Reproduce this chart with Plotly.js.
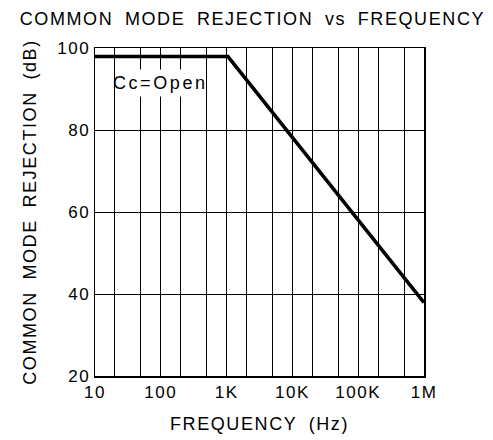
<!DOCTYPE html>
<html><head><meta charset="utf-8">
<script src="https://cdn.plot.ly/plotly-3.0.1.min.js"></script>
<style>
html,body{margin:0;padding:0;background:#fff}
#chart text{letter-spacing:1.5px}
#chart .gtitle, #chart .g-xtitle text, #chart .g-ytitle text{letter-spacing:1.6px; word-spacing:5px}
#chart .annotation-text{letter-spacing:2.6px}
</style>
</head><body>
<div id="chart" style="width:493px;height:440px"></div>
<script>
const freqHz = [10, 1050, 1000000];
const cmrDb = [97.9, 97.9, 37.9];
const tickVals = [10, 100, 1000, 10000, 100000, 1000000];
const tickText = ['10', '100', '1K', '10K', '100K', '1M'];
const yTicks = [20, 40, 60, 80, 100];
const curveLabel = 'Cc=Open';

const font = {family: 'Liberation Sans, Arial, sans-serif', color: '#000'};

Plotly.newPlot('chart', [{
  x: freqHz, y: cmrDb, type: 'scatter', mode: 'lines',
  line: {color: '#000', width: 3.5}, hoverinfo: 'skip'
}], {
  width: 493, height: 440,
  margin: {l: 95, r: 69, t: 48, b: 64},
  paper_bgcolor: '#fff', plot_bgcolor: '#fff',
  showlegend: false,
  font: Object.assign({size: 17}, font),
  title: {text: 'COMMON MODE REJECTION vs FREQUENCY', x: 0.512, xanchor: 'center', y: 0.958, yanchor: 'middle',
    font: Object.assign({size: 18}, font)},
  xaxis: {
    type: 'log', range: [1, 6], tickvals: tickVals, ticktext: tickText,
    showgrid: false, ticks: '', showline: true, linecolor: '#000', linewidth: 1.5, mirror: true,
    tickfont: Object.assign({size: 17}, font),
    minor: {showgrid: true, gridcolor: '#000', gridwidth: 1, ticks: ''},
    title: {text: 'FREQUENCY (Hz)', standoff: 16, font: Object.assign({size: 18}, font)},
    zeroline: false
  },
  yaxis: {
    range: [20, 100], tickvals: yTicks, showgrid: true, gridcolor: '#000', gridwidth: 1,
    ticks: '', showline: true, linecolor: '#000', linewidth: 1.5, mirror: true,
    tickfont: Object.assign({size: 17}, font),
    title: {text: 'COMMON MODE REJECTION (dB)', standoff: 20, font: Object.assign({size: 18}, font)},
    zeroline: false
  },
  annotations: [{
    x: Math.log10(100), y: 91.5, xref: 'x', yref: 'y', text: curveLabel, showarrow: false,
    bgcolor: '#fff', font: Object.assign({size: 18}, font), borderpad: 3
  }]
}, {displayModeBar: false, staticPlot: true});
</script>
</body></html>
